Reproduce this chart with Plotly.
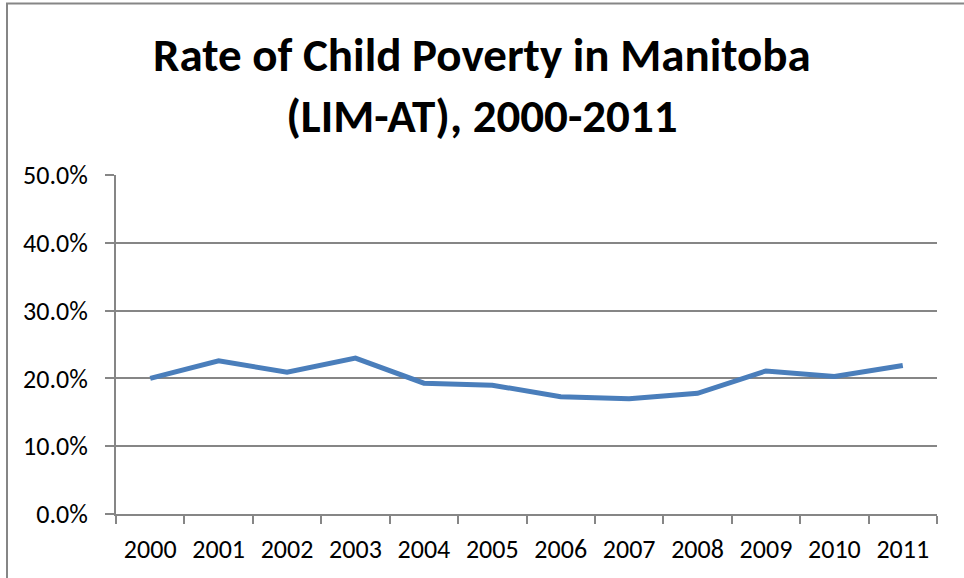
import plotly.graph_objects as go

years = ["2000", "2001", "2002", "2003", "2004", "2005", "2006", "2007", "2008", "2009", "2010", "2011"]
rates = [20.0, 22.6, 20.9, 23.0, 19.3, 19.0, 17.3, 17.0, 17.8, 21.1, 20.3, 21.9]
y_ticks = [0, 10, 20, 30, 40, 50]
y_tick_labels = ["0.0%", "10.0%", "20.0%", "30.0%", "40.0%", "50.0%"]
title_text = "Rate of Child Poverty in Manitoba<br>(LIM-AT), 2000-2011"

FONT = "Carlito, Liberation Sans Narrow, Open Sans, sans-serif"

fig = go.Figure()
fig.add_trace(go.Scatter(
    x=years, y=rates, mode="lines",
    line=dict(color="#4A7EBB", width=5),
    hoverinfo="x+y",
))

fig.update_layout(
    width=964, height=578,
    margin=dict(l=116, r=27, t=175, b=64),
    paper_bgcolor="white", plot_bgcolor="white",
    showlegend=False,
    annotations=[dict(text="<b>" + title_text + "</b>", x=0.5 + (482 - 526.5) / 821, xanchor="center",
                      y=(514 - 85) / 339, yanchor="middle", xref="paper", yref="paper",
                      showarrow=False, font=dict(family=FONT, size=47, color="black"))],
    xaxis=dict(type="category", showgrid=False, showline=True, linecolor="#868686", linewidth=2,
               ticks="outside", tickson="boundaries", ticklen=8, tickcolor="#868686", tickwidth=1.5,
               ticklabelstandoff=11,
               tickfont=dict(family=FONT, size=26, color="black"), range=[-0.5, 11.5]),
    yaxis=dict(range=[0, 50], tickvals=y_ticks, ticktext=y_tick_labels, showgrid=True,
               gridcolor="#868686", gridwidth=1.5, showline=True, linecolor="#868686", linewidth=2,
               ticks="outside", ticklen=9, tickcolor="#868686", tickwidth=1.5, zeroline=False,
               ticklabelstandoff=12,
               tickfont=dict(family=FONT, size=26, color="black")),
    shapes=[dict(type="rect", xref="paper", yref="paper",
                 x0=(7 - 116) / 821, x1=(1000 - 116) / 821,
                 y0=(514 - 700) / 339, y1=(514 - 3.5) / 339,
                 line=dict(color="#868686", width=2), fillcolor="rgba(0,0,0,0)", layer="below")],
)

fig.write_html("out.html")
